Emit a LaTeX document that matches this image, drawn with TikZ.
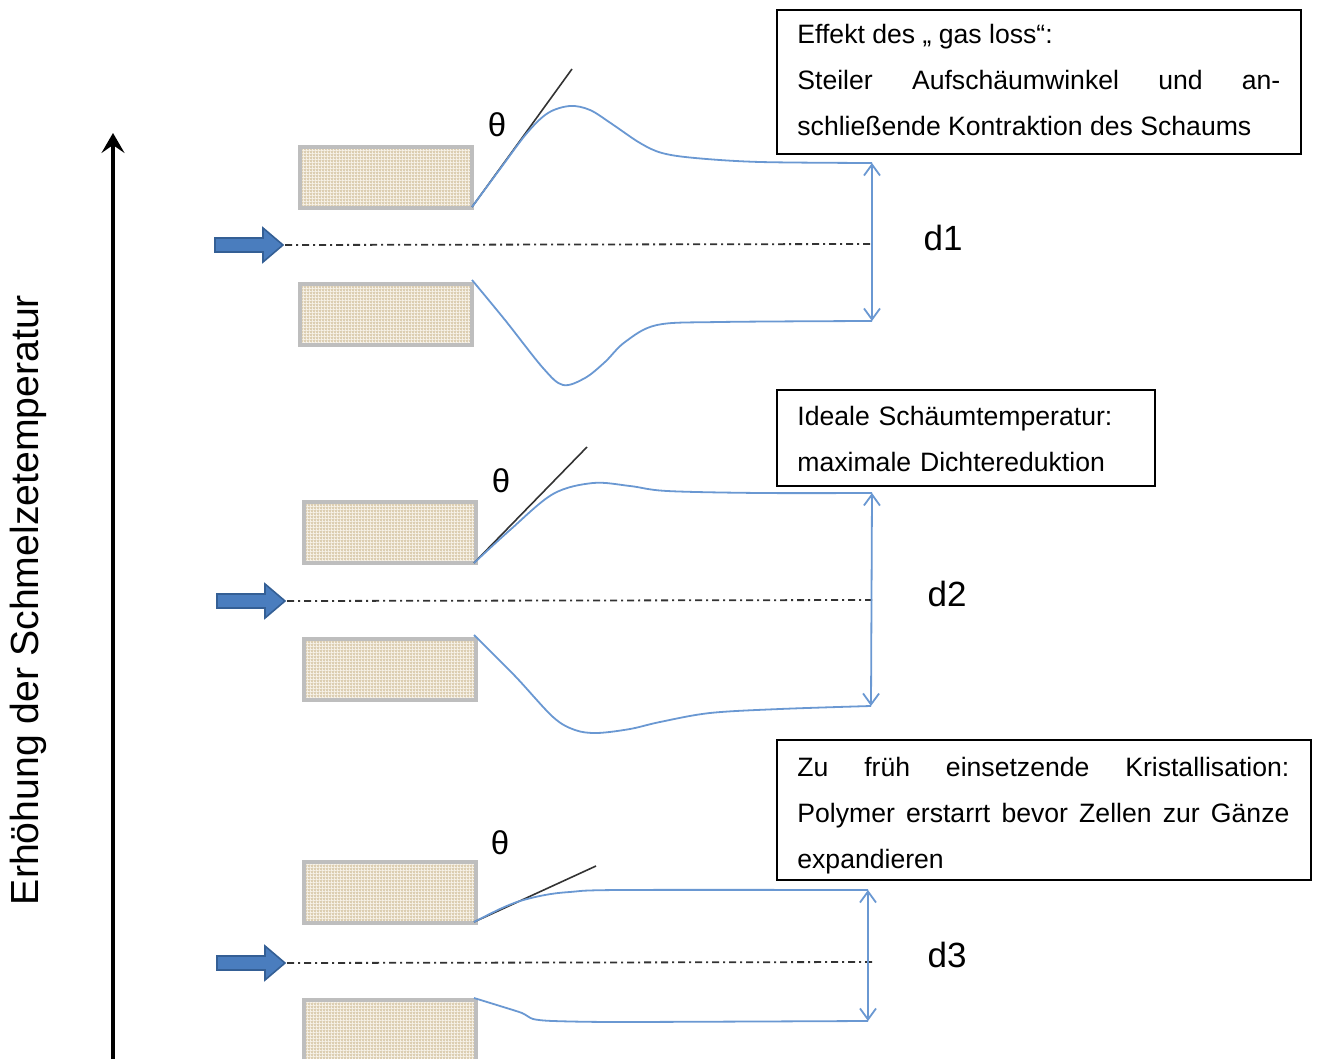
\documentclass[tikz,border=0pt]{standalone}
\usepackage{fontspec}
\setmainfont{Liberation Sans}
\usetikzlibrary{arrows.meta,patterns}

\definecolor{contour}{HTML}{6A98D2}
\definecolor{flowfill}{HTML}{4A7DBE}
\definecolor{flowdraw}{HTML}{345F95}
\definecolor{diegray}{HTML}{BEBEBE}
\definecolor{diefill}{HTML}{DCCEB2}
\definecolor{dieweave}{HTML}{F6F1E7}
\definecolor{axisgray}{HTML}{333333}

% fine woven texture for the die lips
\pgfdeclarepatternformonly{weave}{\pgfpointorigin}{\pgfpoint{1.6pt}{1.6pt}}{\pgfpoint{1.6pt}{1.6pt}}{%
  \pgfpathrectangle{\pgfpointorigin}{\pgfpoint{1.6pt}{0.5pt}}%
  \pgfpathrectangle{\pgfpointorigin}{\pgfpoint{0.5pt}{1.6pt}}%
  \pgfusepath{fill}}

\tikzset{
  die/.style={preaction={fill=diefill}, pattern=weave, pattern color=dieweave,
    draw=diegray, line width=2pt,
    minimum width=172*0.5pt, minimum height=61*0.5pt, anchor=north west,
    inner sep=0pt},
  flow/.style={fill=flowfill, draw=flowdraw, line width=0.8pt},
  axisline/.style={axisgray, line width=0.9pt,
    dash pattern=on 3.5pt off 2pt on 1pt off 2pt},
  foam/.style={contour, line width=0.9pt},
  tangent/.style={axisgray, line width=0.8pt},
  dimline/.style={contour, line width=0.9pt,
    {Straight Barb[length=5.5pt,width=8pt]}-{Straight Barb[length=5.5pt,width=8pt]}},
  dlabel/.style={font=\fontsize{17.5pt}{20pt}\selectfont},
  anglelabel/.style={font=\fontsize{16.5pt}{19pt}\selectfont},
  infobox/.style={draw=black, line width=1pt, inner sep=0pt, anchor=north west},
  infotext/.style={inner sep=0pt, anchor=base west, align=justify,
    font=\fontsize{13.3pt}{23pt}\selectfont},
}

\begin{document}
\begin{tikzpicture}[x=0.5pt,y=-0.5pt]
\useasboundingbox (0,0) rectangle (1318,1059);

% temperature axis
\coordinate (axlow) at (113,1062);
\coordinate (axhigh) at (113,133);
\draw[line width=2pt, -{Stealth[length=10pt,width=11.5pt,inset=4pt]}] (axlow) -- (axhigh);
\node[rotate=90, font=\fontsize{19.6pt}{22pt}\selectfont] (axlabel) at (28,600)
  {Erhöhung der Schmelzetemperatur};

% ---------- top: gas loss ----------
\node[die] (dieAu) at (298,145) {};
\node[die] (dieAl) at (298,282) {};
\fill[flow] (215,238) -- (263,238) -- (263,228) -- (283,245) -- (263,262)
  -- (263,252) -- (215,252) -- cycle;
\coordinate (axA0) at (285,245);
\coordinate (axA1) at (872,244);
\draw[axisline] (axA0) -- (axA1);
\coordinate (lipAu) at (472,207);
\coordinate (lipAl) at (472,280);
\coordinate (tanA) at (572,69);
\coordinate (endAu) at (872,163);
\coordinate (endAl) at (872,321);
\draw[tangent] (lipAu) -- (tanA);
\draw[foam] plot[smooth, tension=0.55] coordinates {(472,207) (500,169) (527,133)
  (548,113) (570,106) (590,110) (612,124) (640,143) (662,153) (695,158) (760,162) (872,163)};
\draw[foam] plot[smooth, tension=0.55] coordinates {(472,280) (505,320) (543,368)
  (563,385) (585,378) (605,362) (625,342) (657,325) (720,322) (872,321)};
\draw[dimline] (endAu) -- (endAl);
\node[dlabel] (dA) at (943,238) {d1};
\node[anglelabel] (thA) at (497,125) {θ};

% ---------- middle: ideal temperature ----------
\node[die] (dieBu) at (302,500) {};
\node[die] (dieBl) at (302,637) {};
\fill[flow] (217,594) -- (265,594) -- (265,584) -- (285,601) -- (265,618)
  -- (265,608) -- (217,608) -- cycle;
\coordinate (axB0) at (287,601);
\coordinate (axB1) at (872,600);
\draw[axisline] (axB0) -- (axB1);
\coordinate (lipBu) at (474,563);
\coordinate (tanB) at (587,447);
\coordinate (endBu) at (872,493);
\coordinate (endBl) at (871,706);
\draw[tangent] (lipBu) -- (tanB);
\draw[foam] plot[smooth, tension=0.55] coordinates {(474,563) (510,530) (553,494)
  (593,483) (630,486) (667,491) (760,493) (872,493)};
\draw[foam] plot[smooth, tension=0.55] coordinates {(474,635) (515,676) (553,717)
  (575,730) (597,733) (630,729) (660,722) (710,713) (780,709) (871,706)};
\draw[dimline] (endBu) -- (endBl);
\node[dlabel] (dB) at (947,594) {d2};
\node[anglelabel] (thB) at (501,481) {θ};

% ---------- bottom: early crystallisation ----------
\node[die] (dieCu) at (302,860) {};
\node[die] (dieCl) at (302,998) {};
\fill[flow] (217,956) -- (265,956) -- (265,946) -- (285,963) -- (265,980)
  -- (265,970) -- (217,970) -- cycle;
\coordinate (axC0) at (287,963);
\coordinate (axC1) at (872,962);
\draw[axisline] (axC0) -- (axC1);
\coordinate (lipCu) at (474,922);
\coordinate (tanC) at (596,866);
\coordinate (endCu) at (868,890);
\coordinate (endCl) at (868,1021);
\draw[tangent] (lipCu) -- (tanC);
\draw[foam] plot[smooth, tension=0.55] coordinates {(474,922) (500,909) (520,901)
  (545,895) (570,892) (620,890) (868,890)};
\draw[foam] plot[smooth, tension=0.4] coordinates {(474,998) (500,1006) (522,1013)
  (533,1019) (553,1021) (620,1022) (868,1021)};
\draw[dimline] (endCu) -- (endCl);
\node[dlabel] (dC) at (947,955) {d3};
\node[anglelabel] (thC) at (500,843) {θ};

% ---------- explanation boxes ----------
\node[infobox, minimum width=524*0.5pt, minimum height=144*0.5pt] (boxA) at (776,9) {};
\node[infotext, text width=483*0.5pt] (txtA) at (797,44)
  {Effekt des „ gas loss“:\\
   Steiler Aufschäumwinkel und an-\linebreak schließende Kontraktion des Schaums};

\node[infobox, minimum width=378*0.5pt, minimum height=96*0.5pt] (boxB) at (776,389) {};
\node[infotext, text width=340*0.5pt, align=left] (txtB) at (797,425)
  {Ideale Schäumtemperatur:\\ maximale Dichtereduktion};

\node[infobox, minimum width=534*0.5pt, minimum height=140*0.5pt] (boxC) at (776,739) {};
\node[infotext, text width=492*0.5pt] (txtC) at (797,776)
  {Zu früh einsetzende Kristallisation:\linebreak
   Polymer erstarrt bevor Zellen zur Gänze\linebreak expandieren};
\end{tikzpicture}
\end{document}
